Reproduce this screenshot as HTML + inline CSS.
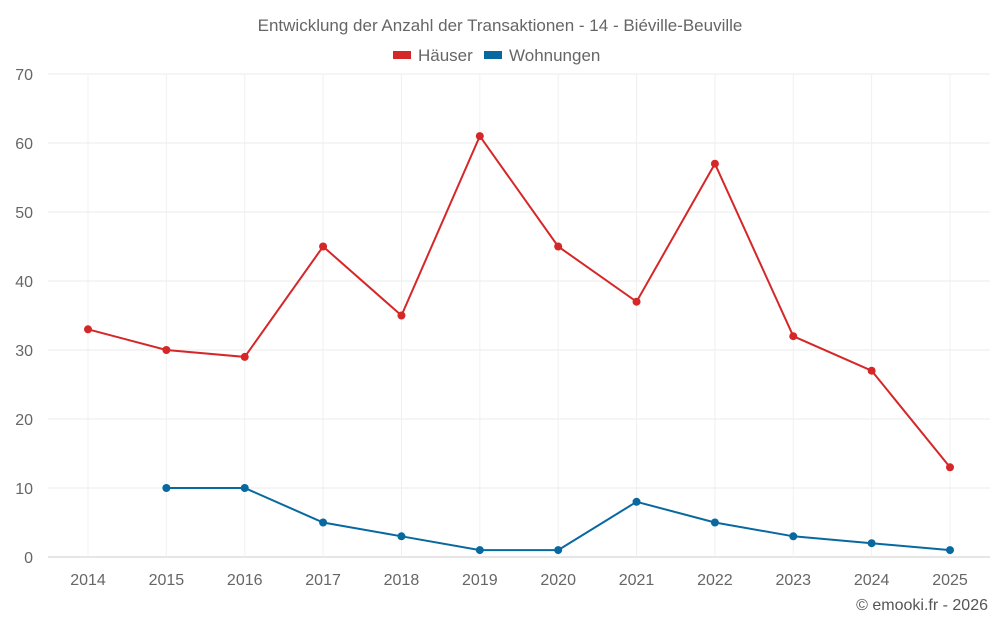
<!DOCTYPE html>
<html><head><meta charset="utf-8"><style>
body{margin:0;background:#fff;font-family:"Liberation Sans",sans-serif}
svg text{font-family:"Liberation Sans",sans-serif}
</style></head><body>
<svg width="1000" height="625" id="c">
<text x="500" y="31" text-anchor="middle" font-size="17" fill="#666">Entwicklung der Anzahl der Transaktionen - 14 - Biéville-Beuville</text>
<g>
<g><rect x="393" y="51" width="18" height="8" fill="#d62728"/><text x="418" y="61" font-size="17" fill="#666">Häuser</text></g>
<g><rect x="484" y="51" width="18" height="8" fill="#0868a0"/><text x="509" y="61" font-size="17" fill="#666">Wohnungen</text></g>
</g>
<g id="grid"></g><g id="series"></g>
<text x="988" y="610" text-anchor="end" font-size="16" fill="#555">© emooki.fr - 2026</text>
</svg>
<script>
const years=[2014,2015,2016,2017,2018,2019,2020,2021,2022,2023,2024,2025];
const haeuser=[33,30,29,45,35,61,45,37,57,32,27,13];
const wohnungen=[null,10,10,5,3,1,1,8,5,3,2,1];
const yTicks=[0,10,20,30,40,50,60,70];
const NS="http://www.w3.org/2000/svg";
const x0=88,x1=950,yb=557,yt=74,ymax=70;
const xs=i=>x0+i*(x1-x0)/(years.length-1);
const ys=v=>yb-v*(yb-yt)/ymax;
function mk(t,a,p){const e=document.createElementNS(NS,t);for(const k in a)e.setAttribute(k,a[k]);p.appendChild(e);return e;}
const g=document.getElementById('grid');
yTicks.forEach(v=>{
const l=mk('line',{x1:48,x2:990,y1:ys(v),y2:ys(v),stroke:v===0?'#ccc':'#ebebeb'},g);


const t=mk('text',{x:33,y:ys(v)+6,'text-anchor':'end','font-size':16,fill:'#666'},g);t.textContent=v;


});
years.forEach((y,i)=>{
const l=mk('line',{x1:xs(i),x2:xs(i),y1:yt,y2:yb,stroke:'#f0f0f0'},g);


const t=mk('text',{x:xs(i),y:585,'text-anchor':'middle','font-size':16,fill:'#666'},g);t.textContent=y;


});
const s=document.getElementById('series');
function draw(arr,col,name){
let d='';arr.forEach((v,i)=>{if(v==null)return;d+=(d?'L':'M')+xs(i)+','+ys(v);});
const p=mk('path',{d:d,fill:'none',stroke:col,'stroke-width':2},s);


arr.forEach((v,i)=>{if(v==null)return;
const c=mk('circle',{cx:xs(i),cy:ys(v),r:4,fill:col},s);

});
}
draw(haeuser,'#d62728','haeuser');
draw(wohnungen,'#0868a0','wohnungen');
</script>
</body></html>
